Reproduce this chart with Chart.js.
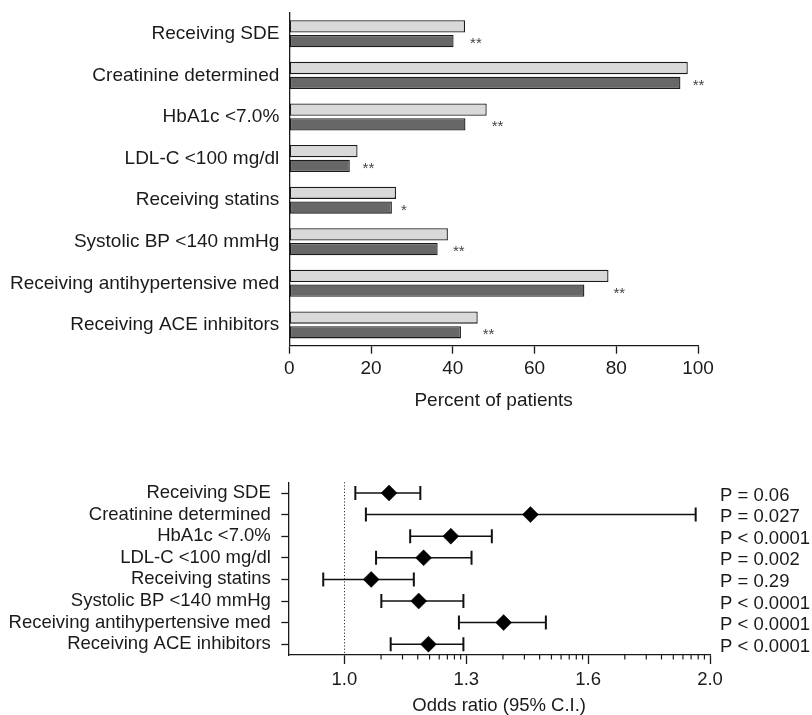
<!DOCTYPE html>
<html><head><meta charset="utf-8">
<script src="https://cdn.jsdelivr.net/npm/chart.js@4.4.1/dist/chart.umd.min.js"></script>
<style>
html,body{margin:0;padding:0;background:#fff;overflow:hidden;width:812px;height:715px;}
#top{position:absolute;left:0;top:0;width:812px;height:420px;}
#bot{position:absolute;left:0;top:460px;width:812px;height:257px;}
</style></head><body>
<div id="top"><canvas id="c1"></canvas></div>
<div id="bot"><canvas id="c2"></canvas></div>
<script>
// ---- data ----
const categories = ['Receiving SDE','Creatinine determined','HbA1c <7.0%','LDL-C <100 mg/dl','Receiving statins','Systolic BP <140 mmHg','Receiving antihypertensive med','Receiving ACE inhibitors'];
const groupLight = [43.0, 97.5, 48.3, 16.7, 26.1, 38.8, 78.1, 46.1];
const groupDark  = [40.2, 95.7, 43.1, 14.8, 25.1, 36.3, 72.2, 42.0];
const significance = ['**','**','**','**','*','**','**','**'];
const pctTickStep = 20;
const orEstimate = [1.110, 1.458, 1.262, 1.195, 1.066, 1.183, 1.392, 1.207];
const orLower    = [1.027, 1.053, 1.162, 1.078, 0.948, 1.091, 1.282, 1.114];
const orUpper    = [1.187, 1.953, 1.363, 1.313, 1.171, 1.293, 1.496, 1.293];
const pValues = ['P = 0.06','P = 0.027','P < 0.0001','P = 0.002','P = 0.29','P < 0.0001','P < 0.0001','P < 0.0001'];
const orTickValues = [1.0, 1.3, 1.6, 2.0];
const orTickLabels = ['1.0','1.3','1.6','2.0'];

// axis position for an odds ratio (piecewise between labelled ticks)
function toPos(v){
  const t = orTickValues; let i = 0;
  while (i < t.length - 2 && v > t[i+1]) i++;
  return i + (v - t[i]) / (t[i+1] - t[i]);
}

const FONT = '"Liberation Sans", Arial, Helvetica, sans-serif';
const INK = '#1a1a1a';
Chart.defaults.font.family = FONT;
Chart.defaults.font.size = 19;
Chart.defaults.color = INK;
const F2 = {family:FONT, size:18.5};

// ---- top bar chart ----
const starPlugin = {
  id:'stars',
  afterDatasetsDraw(chart){
    const ctx = chart.ctx, xs = chart.scales.x, m = chart.getDatasetMeta(1);
    ctx.save();
    ctx.font = '15px ' + FONT; ctx.fillStyle = '#444'; ctx.textBaseline = 'alphabetic';
    significance.forEach((s,i)=>{
      const x = xs.getPixelForValue(Math.max(groupLight[i], groupDark[i])) + 5;
      const y = m.data[i].y + 7;
      ctx.fillText(s, x, y);
    });
    ctx.restore();
  }
};

new Chart(document.getElementById('c1'), {
  type:'bar',
  data:{ labels:categories, datasets:[
    {data:groupLight, backgroundColor:'#d9d9d9', borderColor:INK, borderWidth:1.3, borderSkipped:false, categoryPercentage:0.71, barPercentage:0.83},
    {data:groupDark, backgroundColor:'#676767', borderColor:INK, borderWidth:1.3, borderSkipped:false, categoryPercentage:0.71, barPercentage:0.83}
  ]},
  options:{
    indexAxis:'y', responsive:true, maintainAspectRatio:false, animation:false,
    layout:{padding:{top:13, right:114, left:0, bottom:0}},
    plugins:{legend:{display:false}, tooltip:{enabled:false}},
    scales:{
      x:{min:0, max:100,
        ticks:{stepSize:pctTickStep, color:INK, padding:4, maxRotation:0},
        grid:{display:true, drawOnChartArea:false, drawTicks:true, tickLength:8, tickColor:INK, tickWidth:1.3},
        border:{display:true, color:INK, width:1.3},
        title:{display:true, text:'Percent of patients', color:INK, padding:{top:0, bottom:8}},
        afterFit:s=>{ s.height = 74.3; }
      },
      y:{
        ticks:{color:INK, padding:1.5, autoSkip:false},
        grid:{display:false, drawTicks:true, tickLength:8.5},
        border:{display:true, color:INK, width:1.3},
        afterFit:s=>{ s.width = 289.3; }
      }
    }
  },
  plugins:[starPlugin]
});

// ---- bottom forest plot ----
const forestDecor = {
  id:'forestDecor',
  beforeDatasetsDraw(chart){
    const ctx = chart.ctx, xs = chart.scales.x, a = chart.chartArea;
    const x = Math.round(xs.getPixelForValue(toPos(1.0))) + 0.5;
    ctx.save();
    ctx.strokeStyle = '#333'; ctx.lineWidth = 1; ctx.setLineDash([1.2, 2]);
    ctx.beginPath(); ctx.moveTo(x, a.top); ctx.lineTo(x, a.bottom); ctx.stroke();
    ctx.restore();
  },
  afterDraw(chart){
    const ctx = chart.ctx, xs = chart.scales.x;
    ctx.save();
    ctx.strokeStyle = INK; ctx.lineWidth = 1.2;
    for (let d = 0; d < orTickValues.length - 1; d++){
      for (let k = 2; k <= 9; k++){
        const px = xs.getPixelForValue(d + Math.log10(k));
        ctx.beginPath(); ctx.moveTo(px, xs.top); ctx.lineTo(px, xs.top + 4.5); ctx.stroke();
      }
    }
    ctx.restore();
  }
};

const diamondSet = {
  type:'line', showLine:false,
  data: categories.map((c,i)=>({x:toPos(orEstimate[i]), y:c})),
  pointStyle:'rectRot', pointRadius:8, pointBackgroundColor:'#000', pointBorderColor:'#000', pointBorderWidth:0.5
};
const ciSets = categories.map((c,i)=>({
  type:'line',
  data:[{x:toPos(orLower[i]), y:c}, {x:toPos(orUpper[i]), y:c}],
  borderColor:'#111', borderWidth:1.5, fill:false,
  pointStyle:'line', pointRotation:90, pointRadius:7, pointBorderWidth:2, pointBorderColor:'#111'
}));

new Chart(document.getElementById('c2'), {
  type:'line',
  data:{ datasets:[diamondSet, ...ciSets] },
  options:{
    responsive:true, maintainAspectRatio:false, animation:false,
    layout:{padding:{top:22.2, right:0, left:0, bottom:0}},
    plugins:{legend:{display:false}, tooltip:{enabled:false}},
    scales:{
      x:{type:'linear', min:-0.46, max:3,
        afterBuildTicks:s=>{ s.ticks = orTickValues.map(v=>({value:toPos(v)})); },
        ticks:{callback:(v,i)=>orTickLabels[i], color:INK, font:F2, padding:5, autoSkip:false, maxRotation:0},
        grid:{display:true, drawOnChartArea:false, drawTicks:true, tickLength:9, tickColor:INK, tickWidth:1.3},
        border:{display:true, color:INK, width:1.3},
        title:{display:true, text:'Odds ratio (95% C.I.)', color:INK, font:F2, padding:{top:0, bottom:0}},
        afterFit:s=>{ s.height = 62; }
      },
      y:{type:'category', labels:categories, offset:true, position:'left',
        ticks:{color:INK, font:F2, padding:10.5, autoSkip:false},
        grid:{display:true, drawOnChartArea:false, drawTicks:true, tickLength:7, tickColor:INK, tickWidth:1.3, offset:false},
        border:{display:true, color:INK, width:1.3},
        afterFit:s=>{ s.width = 288.3; }
      },
      y2:{type:'category', labels:pValues, offset:true, position:'right',
        ticks:{color:INK, font:F2, padding:10, labelOffset:2.5, autoSkip:false},
        grid:{display:false, drawTicks:false}, border:{display:false},
        afterFit:s=>{ s.width = 102; }
      }
    }
  },
  plugins:[forestDecor]
});
</script>
</body></html>
